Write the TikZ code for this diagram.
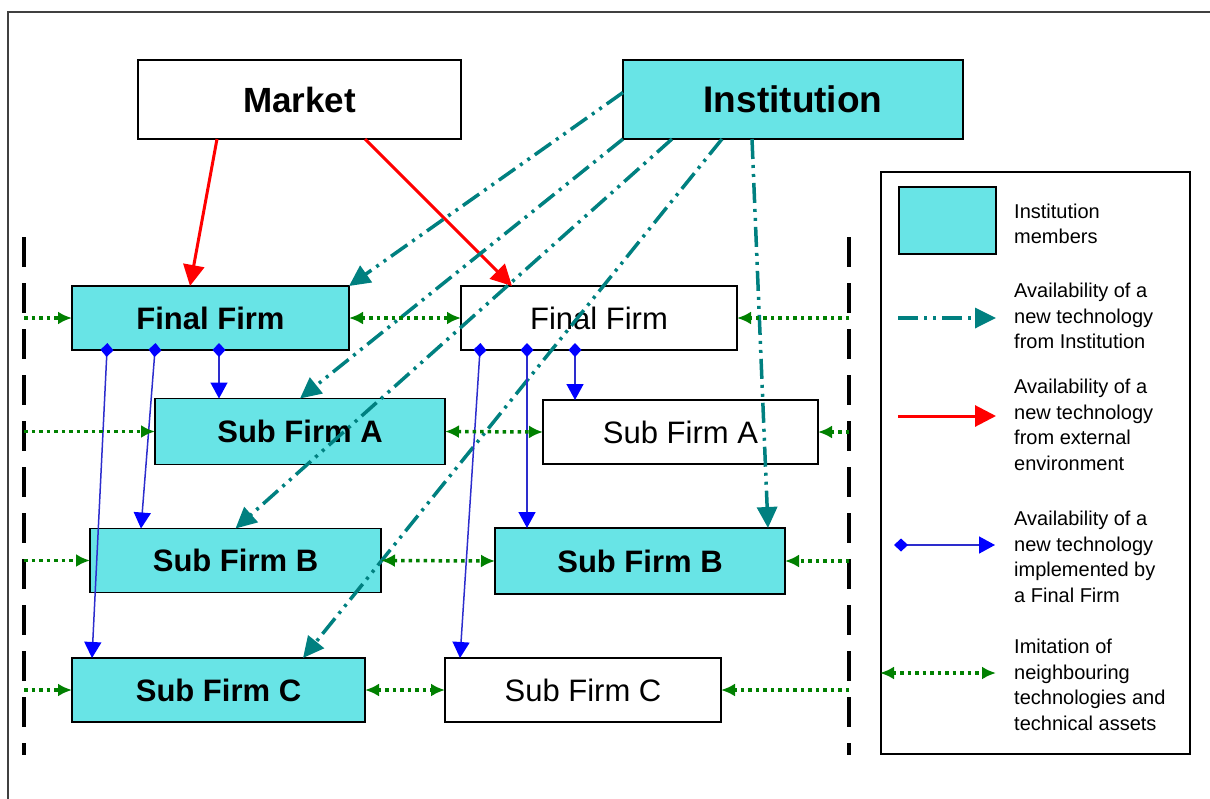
\documentclass[tikz,border=0pt]{standalone}
\usepackage{fontspec}
\setmainfont{Liberation Sans}
\usetikzlibrary{arrows.meta}
\definecolor{instcyan}{RGB}{104,228,230}
\definecolor{techteal}{RGB}{0,128,128}
\definecolor{imitgreen}{RGB}{0,128,0}
\definecolor{implblue}{RGB}{45,45,205}
\begin{document}
\begin{tikzpicture}[x=1pt, y=-1pt,
    box/.style = {draw, line width=1.5pt, inner sep=0pt, outer sep=0pt,
        minimum height=64pt, font=\fontsize{31}{36}\selectfont},
    member/.style = {box, fill=instcyan, font=\fontsize{31}{36}\selectfont\bfseries},
    legtext/.style = {anchor=west, align=left, inner sep=0pt,
        font=\fontsize{20}{25.5}\selectfont},
    divider/.style = {line width=4pt, dash pattern=on 30pt off 16pt},
    fromext/.style = {red, line width=3pt, -{Triangle[length=21pt,width=21pt]}},
    frominst/.style = {techteal, line width=3.5pt,
        dash pattern=on 20pt off 6pt on 3pt off 6pt on 3pt off 6pt,
        -{Triangle[length=21pt,width=20pt]}},
    implem/.style = {implblue, line width=1.5pt, shorten <=-7pt,
        {Diamond[length=14pt,width=13pt,color=blue]}-{Triangle[length=16pt,width=17pt,color=blue]}},
    imitin/.style = {imitgreen, line width=3.5pt, dash pattern=on 3.5pt off 4pt,
        -{Latex[length=14pt,width=13pt]}},
    imitboth/.style = {imitin, {Latex[length=14pt,width=13pt]}-{Latex[length=14pt,width=13pt]}}
]
    \useasboundingbox (0,0) rectangle (1210,798);
    \draw[line width=1.8pt, black!75] (8,12) rectangle (1230,820);

    % Nodes with manual coordinates
    \node[box, minimum width=323pt, minimum height=79pt,
        font=\fontsize{35}{40}\selectfont\bfseries] (market) at (299.5,99.5) {Market};
    \node[member, minimum width=340pt, minimum height=79pt,
        font=\fontsize{37}{42}\selectfont\bfseries] (inst) at (793,99.5) {Institution};

    \node[member, minimum width=277pt] (ffl) at (210.5,318) {Final Firm};
    \node[box, minimum width=276pt] (ffr) at (599,318) {Final Firm};
    \node[member, minimum width=290pt, minimum height=66pt] (sal) at (300,431.5) {Sub Firm A};
    \node[box, minimum width=275pt] (sar) at (680.5,432) {Sub Firm A};
    \node[member, minimum width=291pt] (sbl) at (235.5,560.5) {Sub Firm B};
    \node[member, minimum width=290pt, minimum height=66pt] (sbr) at (640,561) {Sub Firm B};
    \node[member, minimum width=293pt] (scl) at (218.5,690) {Sub Firm C};
    \node[box, minimum width=276pt] (scr) at (583,690) {Sub Firm C};

    % Borders of the district
    \coordinate (lt) at (24,237);
    \coordinate (lb) at (24,755);
    \coordinate (rt) at (849,237);
    \coordinate (rb) at (849,755);
    \draw[divider] (lt) -- (lb);
    \draw[divider] (rt) -- (rb);

    % Edges
    \draw[fromext] ([xshift=79pt]market.south west) -- ([xshift=118pt]ffl.north west);
    \draw[fromext] ([xshift=227pt]market.south west) -- ([xshift=51pt]ffr.north west);

    \draw[frominst] ([yshift=7pt]inst.west) -- (ffl.north east);
    \draw[frominst] (inst.south west) -- (sal.north);
    \draw[frominst] ([xshift=49pt]inst.south west) -- (sbl.north);
    \draw[frominst] ([xshift=99pt]inst.south west) -- ([xshift=231pt]scl.north west);
    \draw[frominst] ([xshift=129pt]inst.south west) -- ([xshift=273pt]sbr.north west);

    \draw[implem] ([xshift=147pt]ffl.south west) -- ([xshift=64pt]sal.north west);
    \draw[implem] ([xshift=83pt]ffl.south west) -- ([xshift=51pt]sbl.north west);
    \draw[implem] ([xshift=35pt]ffl.south west) -- ([xshift=20pt]scl.north west);
    \draw[implem] ([xshift=114pt]ffr.south west) -- ([xshift=32pt]sar.north west);
    \draw[implem] ([xshift=66pt]ffr.south west) -- ([xshift=32pt]sbr.north west);
    \draw[implem] ([xshift=19pt]ffr.south west) -- ([xshift=15pt]scr.north west);

    \draw[imitin] (lt |- ffl.west) -- (ffl.west);
    \draw[imitboth] (ffl.east) -- (ffr.west);
    \draw[imitin] (rt |- ffr.east) -- (ffr.east);
    \draw[imitin] (lt |- sal.west) -- (sal.west);
    \draw[imitboth] (sal.east) -- (sar.west);
    \draw[imitin] (rt |- sar.east) -- (sar.east);
    \draw[imitin] (lt |- sbl.west) -- (sbl.west);
    \draw[imitboth] (sbl.east) -- (sbr.west);
    \draw[imitin] (rt |- sbr.east) -- (sbr.east);
    \draw[imitin] (lt |- scl.west) -- (scl.west);
    \draw[imitboth] (scl.east) -- (scr.west);
    \draw[imitin] (rt |- scr.east) -- (scr.east);

    % Legend
    \node[draw, line width=1.5pt, minimum width=309pt, minimum height=582pt,
        inner sep=0pt] (legend) at (1035.5,463) {};
    \node[member, minimum width=97pt, minimum height=67pt] (swatch) at (947.5,220.5) {};
    \node[legtext] (leg1) at (1014,224) {Institution\\members};
    \node[legtext] (leg2) at (1014,316) {Availability of a\\new technology\\from Institution};
    \node[legtext] (leg3) at (1014,425) {Availability of a\\new technology\\from external\\environment};
    \node[legtext] (leg4) at (1014,557) {Availability of a\\new technology\\implemented by\\a Final Firm};
    \node[legtext] (leg5) at (1014,685) {Imitation of\\neighbouring\\technologies and\\technical assets};

    \draw[frominst] ([xshift=-116pt,yshift=-2pt]leg2.west) -- ([xshift=-18pt,yshift=-2pt]leg2.west);
    \draw[fromext] ([xshift=-116pt,yshift=9pt]leg3.west) -- ([xshift=-18pt,yshift=9pt]leg3.west);
    \draw[implem] ([xshift=-113pt,yshift=12pt]leg4.west) -- ([xshift=-19pt,yshift=12pt]leg4.west);
    \draw[imitboth] ([xshift=-134pt,yshift=12pt]leg5.west) -- ([xshift=-18pt,yshift=12pt]leg5.west);
\end{tikzpicture}
\end{document}
